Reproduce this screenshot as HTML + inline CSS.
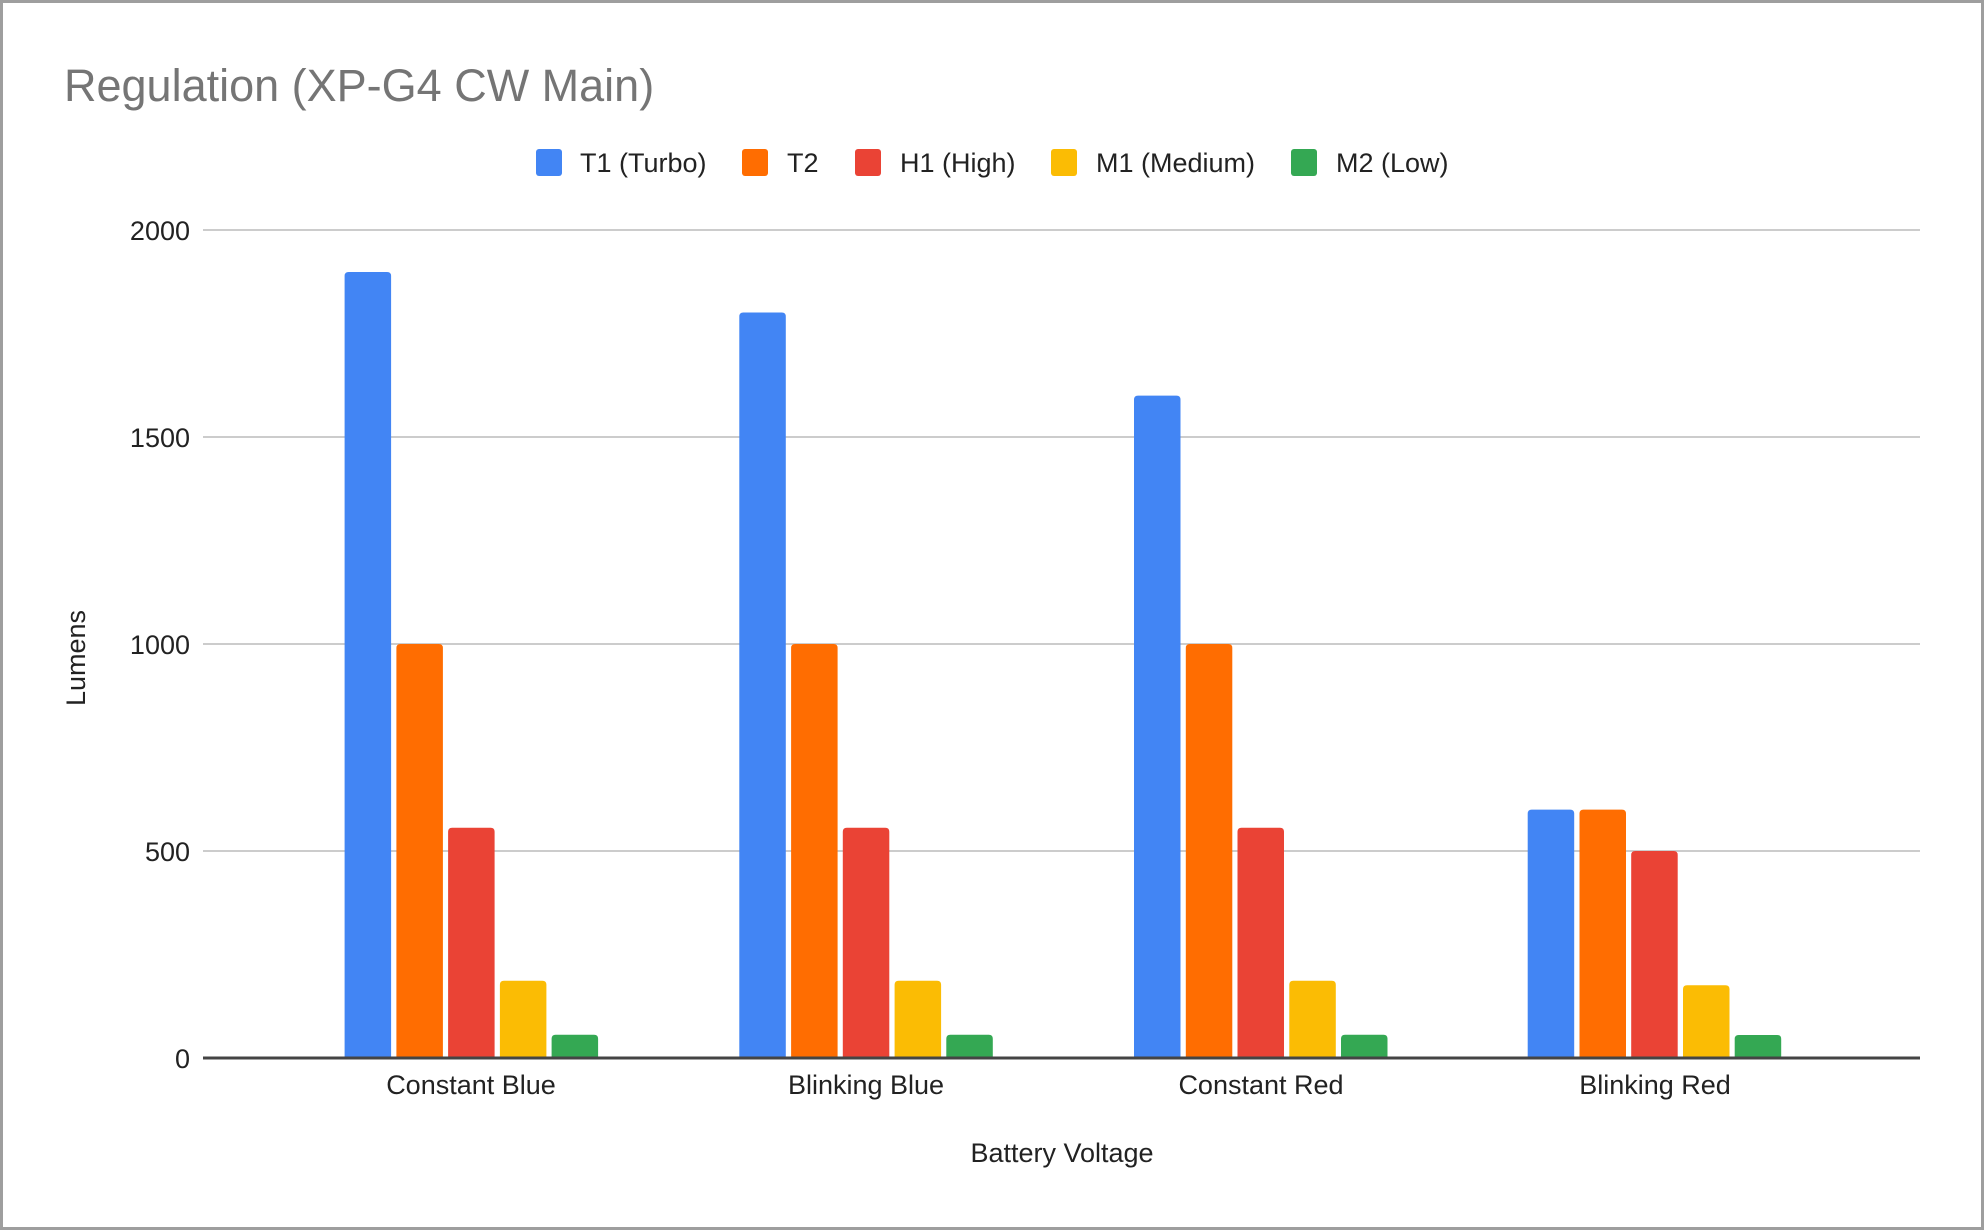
<!DOCTYPE html>
<html>
<head>
<meta charset="utf-8">
<style>
  html, body { margin: 0; padding: 0; background: #fff; }
  body { width: 1984px; height: 1230px; overflow: hidden; }
  svg { display: block; }
  text { font-family: "Liberation Sans", Arial, sans-serif; }
</style>
</head>
<body>
<svg width="1984" height="1230" viewBox="0 0 1984 1230" xmlns="http://www.w3.org/2000/svg">
  <rect x="0" y="0" width="1984" height="1230" fill="#ffffff"/>
  <rect x="1.5" y="1.5" width="1981" height="1227" fill="none" stroke="#9e9e9e" stroke-width="3"/>

  <!-- Title -->
  <text x="64" y="101" font-size="45" fill="#757575">Regulation (XP-G4 CW Main)</text>

  <!-- Legend -->
  <g font-size="27" fill="#222222">
    <rect x="536" y="149" width="26" height="27" rx="3" fill="#4285F4"/>
    <text x="580" y="172">T1 (Turbo)</text>
    <rect x="742" y="149" width="26" height="27" rx="3" fill="#FF6D01"/>
    <text x="787" y="172">T2</text>
    <rect x="855" y="149" width="26" height="27" rx="3" fill="#EA4335"/>
    <text x="900" y="172">H1 (High)</text>
    <rect x="1051" y="149" width="26" height="27" rx="3" fill="#FBBC04"/>
    <text x="1096" y="172">M1 (Medium)</text>
    <rect x="1291" y="149" width="26" height="27" rx="3" fill="#34A853"/>
    <text x="1336" y="172">M2 (Low)</text>
  </g>

  <!-- Gridlines -->
  <g stroke="#cccccc" stroke-width="2">
    <line x1="203" y1="230" x2="1920" y2="230"/>
    <line x1="203" y1="437" x2="1920" y2="437"/>
    <line x1="203" y1="644" x2="1920" y2="644"/>
    <line x1="203" y1="851" x2="1920" y2="851"/>
  </g>

  <!-- Y tick labels -->
  <g font-size="27" fill="#222222" text-anchor="end">
    <text x="190" y="240">2000</text>
    <text x="190" y="447">1500</text>
    <text x="190" y="654">1000</text>
    <text x="190" y="861">500</text>
    <text x="190" y="1068">0</text>
  </g>

  <!-- Bars -->
  <g id="bars">
    <!-- Group 1: Constant Blue (start 344.6) -->
    <path d="M344.6,1058 V276 Q344.6,272 348.6,272 H387.1 Q391.1,272 391.1,276 V1058 Z" fill="#4285F4"/>
    <path d="M396.4,1058 V648 Q396.4,644 400.4,644 H438.9 Q442.9,644 442.9,648 V1058 Z" fill="#FF6D01"/>
    <path d="M448.1,1058 V831.7 Q448.1,827.7 452.1,827.7 H490.6 Q494.6,827.7 494.6,831.7 V1058 Z" fill="#EA4335"/>
    <path d="M499.9,1058 V984.7 Q499.9,980.7 503.9,980.7 H542.4 Q546.4,980.7 546.4,984.7 V1058 Z" fill="#FBBC04"/>
    <path d="M551.6,1058 V1038.7 Q551.6,1034.7 555.6,1034.7 H594.1 Q598.1,1034.7 598.1,1038.7 V1058 Z" fill="#34A853"/>

    <!-- Group 2: Blinking Blue (start 739.3) -->
    <path d="M739.3,1058 V316.5 Q739.3,312.5 743.3,312.5 H781.8 Q785.8,312.5 785.8,316.5 V1058 Z" fill="#4285F4"/>
    <path d="M791.1,1058 V648 Q791.1,644 795.1,644 H833.6 Q837.6,644 837.6,648 V1058 Z" fill="#FF6D01"/>
    <path d="M842.8,1058 V831.7 Q842.8,827.7 846.8,827.7 H885.3 Q889.3,827.7 889.3,831.7 V1058 Z" fill="#EA4335"/>
    <path d="M894.6,1058 V984.7 Q894.6,980.7 898.6,980.7 H937.1 Q941.1,980.7 941.1,984.7 V1058 Z" fill="#FBBC04"/>
    <path d="M946.3,1058 V1038.7 Q946.3,1034.7 950.3,1034.7 H988.8 Q992.8,1034.7 992.8,1038.7 V1058 Z" fill="#34A853"/>

    <!-- Group 3: Constant Red (start 1134.0) -->
    <path d="M1134,1058 V399.6 Q1134,395.6 1138,395.6 H1176.5 Q1180.5,395.6 1180.5,399.6 V1058 Z" fill="#4285F4"/>
    <path d="M1185.8,1058 V648 Q1185.8,644 1189.8,644 H1228.3 Q1232.3,644 1232.3,648 V1058 Z" fill="#FF6D01"/>
    <path d="M1237.5,1058 V831.7 Q1237.5,827.7 1241.5,827.7 H1280 Q1284,827.7 1284,831.7 V1058 Z" fill="#EA4335"/>
    <path d="M1289.3,1058 V984.7 Q1289.3,980.7 1293.3,980.7 H1331.8 Q1335.8,980.7 1335.8,984.7 V1058 Z" fill="#FBBC04"/>
    <path d="M1341,1058 V1038.7 Q1341,1034.7 1345,1034.7 H1383.5 Q1387.5,1034.7 1387.5,1038.7 V1058 Z" fill="#34A853"/>

    <!-- Group 4: Blinking Red (start 1527.7) -->
    <path d="M1527.7,1058 V813.6 Q1527.7,809.6 1531.7,809.6 H1570.2 Q1574.2,809.6 1574.2,813.6 V1058 Z" fill="#4285F4"/>
    <path d="M1579.5,1058 V813.6 Q1579.5,809.6 1583.5,809.6 H1622 Q1626,809.6 1626,813.6 V1058 Z" fill="#FF6D01"/>
    <path d="M1631.2,1058 V855 Q1631.2,851 1635.2,851 H1673.7 Q1677.7,851 1677.7,855 V1058 Z" fill="#EA4335"/>
    <path d="M1683,1058 V989.3 Q1683,985.3 1687,985.3 H1725.5 Q1729.5,985.3 1729.5,989.3 V1058 Z" fill="#FBBC04"/>
    <path d="M1734.7,1058 V1039 Q1734.7,1035 1738.7,1035 H1777.2 Q1781.2,1035 1781.2,1039 V1058 Z" fill="#34A853"/>
  </g>

  <!-- Zero baseline -->
  <line x1="203" y1="1058" x2="1920" y2="1058" stroke="#444444" stroke-width="3"/>

  <!-- X category labels -->
  <g font-size="27" fill="#222222" text-anchor="middle">
    <text x="471" y="1094">Constant Blue</text>
    <text x="866" y="1094">Blinking Blue</text>
    <text x="1261" y="1094">Constant Red</text>
    <text x="1655" y="1094">Blinking Red</text>
  </g>

  <!-- Axis titles -->
  <text x="1062" y="1162" font-size="27" fill="#222222" text-anchor="middle">Battery Voltage</text>
  <text transform="translate(85,658) rotate(-90)" font-size="27" fill="#222222" text-anchor="middle">Lumens</text>
</svg>
</body>
</html>
